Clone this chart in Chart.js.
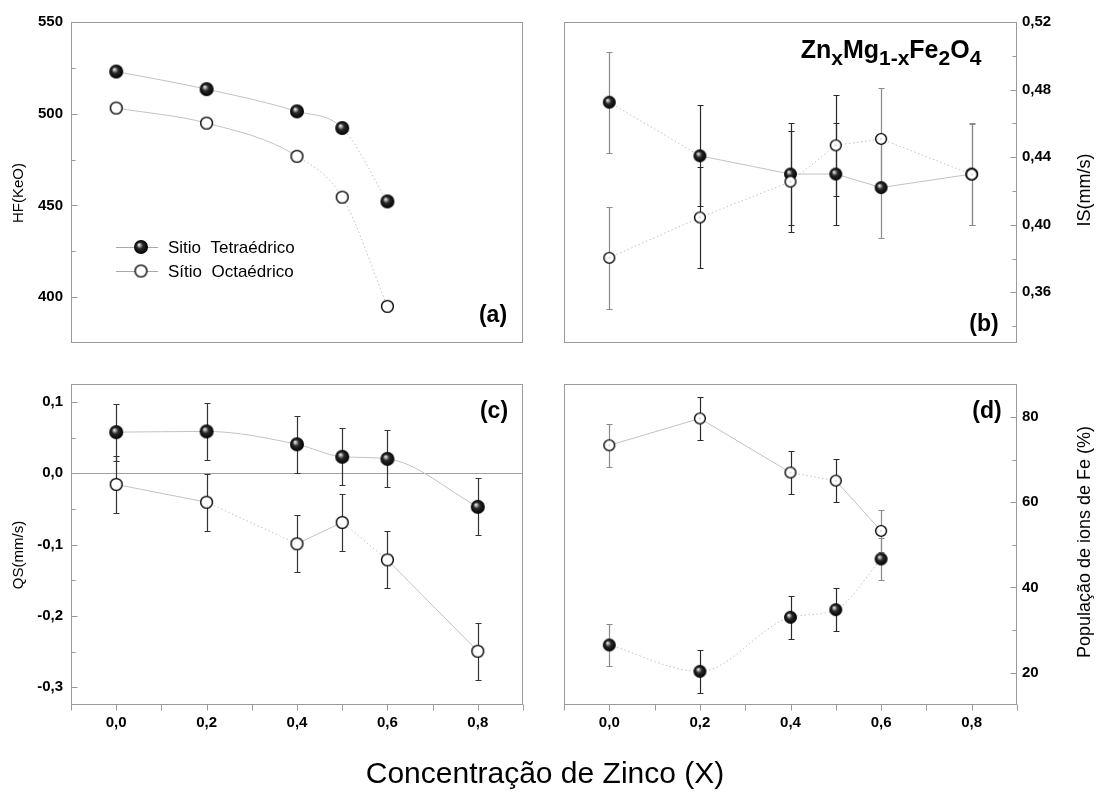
<!DOCTYPE html>
<html lang="pt">
<head>
<meta charset="UTF-8">
<title>ZnxMg1-xFe2O4</title>
<script src="https://cdn.jsdelivr.net/npm/chart.js"></script>
<style>
  body { margin: 0; background: #fff; }
  .wrap { position: relative; width: 1099px; height: 801px; overflow: hidden; }
  .wrap canvas { position: absolute; left: 0; top: 0; }
</style>
</head>
<body>
<div class="wrap">
  <canvas id="chartHF" width="1099" height="801"></canvas>
  <canvas id="chartIS" width="1099" height="801"></canvas>
  <canvas id="chartQS" width="1099" height="801"></canvas>
  <canvas id="chartPop" width="1099" height="801"></canvas>
</div>
<script>
// (a) campo hiperfino
const xHF = [0, 0.2, 0.4, 0.5, 0.6];
const hfTetra = [523, 513.4, 501.3, 492.2, 452.2];
const hfOcta = [503.1, 494.9, 476.8, 454.5, 395];

// (b) deslocamento isomérico
const xIS = [0, 0.2, 0.4, 0.5, 0.6, 0.8];
const isTetra = [0.4725, 0.4408, 0.430, 0.430, 0.422, 0.430];
const isOcta = [0.3804, 0.4043, 0.4255, 0.447, 0.4508, 0.4298];
const isTetraErr = [0.03, 0.03, 0.03, 0.03, 0.03, 0.03];
const isOctaErr = [0.03, 0.03, 0.03, 0.03, 0.03, 0.03];

// (c) desdobramento quadrupolar
const xQS = [0, 0.2, 0.4, 0.5, 0.6, 0.8];
const qsTetra = [0.0575, 0.0585, 0.0405, 0.023, 0.0201, -0.0472];
const qsOcta = [-0.0158, -0.0407, -0.099, -0.069, -0.1215, -0.2496];
const qsTetraErr = [0.04, 0.04, 0.04, 0.04, 0.04, 0.04];
const qsOctaErr = [0.04, 0.04, 0.04, 0.04, 0.04, 0.04];

// (d) população de ions de Fe
const xPop = [0, 0.2, 0.4, 0.5, 0.6];
const popTetra = [26.5, 20.3, 33.0, 34.8, 46.7];
const popOcta = [73.4, 79.7, 67.0, 65.1, 53.3];
const popTetraErr = [5, 5, 5, 5, 5];
const popOctaErr = [5, 5, 5, 5, 5];

// ticks
const xMajor = [0, 0.2, 0.4, 0.6, 0.8];
const xMinor = [-0.1, 0.1, 0.3, 0.5, 0.7, 0.9];
const hfMajor = [400, 450, 500, 550];
const hfMinor = [425, 475, 525];
const isMajor = [0.36, 0.40, 0.44, 0.48, 0.52];
const isMinor = [0.34, 0.38, 0.42, 0.46, 0.50];
const qsMajor = [-0.3, -0.2, -0.1, 0, 0.1];
const qsMinor = [-0.25, -0.15, -0.05, 0.05];
const popMajor = [20, 40, 60, 80];
const popMinor = [30, 50, 70];

const FONT = '"Liberation Sans", Arial, sans-serif';
Chart.defaults.font.family = FONT;
Chart.defaults.color = '#000';
Chart.defaults.animation = false;
Chart.defaults.plugins.legend.display = false;
Chart.defaults.plugins.tooltip.enabled = false;

// marker images: black sphere and open circle
function sphere(d) {
  const c = document.createElement('canvas');
  c.width = c.height = d + 2;
  const g = c.getContext('2d');
  const r = d / 2, m = c.width / 2;
  const grad = g.createRadialGradient(m - r * 0.3, m - r * 0.35, 0, m, m, r);
  grad.addColorStop(0, '#ffffff');
  grad.addColorStop(0.18, '#b0b0b0');
  grad.addColorStop(0.45, '#2a2a2a');
  grad.addColorStop(1, '#000000');
  g.fillStyle = grad;
  g.beginPath(); g.arc(m, m, r, 0, Math.PI * 2); g.fill();
  return c;
}
function ring(d, dot) {
  const c = document.createElement('canvas');
  c.width = c.height = d + 2;
  const g = c.getContext('2d');
  const m = c.width / 2;
  g.fillStyle = '#fff'; g.strokeStyle = '#000'; g.lineWidth = 1.4;
  g.beginPath(); g.arc(m, m, d / 2 - 0.6, 0, Math.PI * 2); g.fill(); g.stroke();
  if (dot) { g.fillStyle = '#777'; g.fillRect(m - 0.5, m - 0.5, 1, 1); }
  return c;
}

const fmt = d => v => v.toFixed(d).replace('.', ',');
const pts = (xs, ys) => xs.map((x, i) => ({ x: x, y: ys[i] }));

function series(xs, ys, marker, dots, extra) {
  return Object.assign({
    data: pts(xs, ys),
    showLine: true,
    borderColor: '#c2c2c2',
    borderWidth: 1,
    pointStyle: marker,
    pointRadius: 6,
    tension: 0,
    segment: { borderDash: ctx => dots[ctx.p0DataIndex] ? [1.5, 2.5] : undefined }
  }, extra || {});
}

function yAxis(side, min, max, major, f, width, pad) {
  return {
    type: 'linear', position: side, min: min, max: max,
    afterBuildTicks: s => { s.ticks = major.map(v => ({ value: v })); },
    afterFit: s => { s.width = width; },
    grid: { display: false, drawTicks: false },
    border: { display: false },
    ticks: { callback: f, padding: pad, font: { size: 15, weight: 'bold' }, color: '#000' }
  };
}
function xAxis(show) {
  if (!show) return { type: 'linear', min: -0.1, max: 0.9, display: false };
  return {
    type: 'linear', position: 'bottom', min: -0.1, max: 0.9,
    afterBuildTicks: s => { s.ticks = xMajor.map(v => ({ value: v })); },
    afterFit: s => { s.height = 40; },
    grid: { display: false, drawTicks: false },
    border: { display: false },
    ticks: { callback: fmt(1), padding: 9, autoSkip: false, maxRotation: 0,
             font: { size: 15, weight: 'bold' }, color: '#000' }
  };
}

function text(ctx, str, x, y, size, bold, rot, align) {
  ctx.save();
  ctx.translate(x, y);
  if (rot) ctx.rotate(rot);
  ctx.font = (bold ? 'bold ' : '') + size + 'px ' + FONT;
  ctx.fillStyle = '#000';
  ctx.textAlign = align || 'center';
  ctx.textBaseline = 'middle';
  ctx.fillText(str, 0, 0);
  ctx.restore();
}

// frame, inward y ticks, outward x ticks, error bars
function panelBase(chart, s) {
  const ctx = chart.ctx, a = chart.chartArea;
  const xs = chart.scales.x, ys = chart.scales.y;
  ctx.save();
  ctx.lineWidth = 1;
  if (s.zeroLine) {
    const py = Math.round(ys.getPixelForValue(0)) + 0.5;
    ctx.strokeStyle = '#a0a0a0';
    ctx.beginPath(); ctx.moveTo(a.left, py); ctx.lineTo(a.right, py); ctx.stroke();
  }
  chart.data.datasets.forEach(ds => {
    if (!ds.errors) return;
    ds.data.forEach((p, i) => {
      const px = Math.round(xs.getPixelForValue(p.x)) + 0.5;
      const t = Math.round(ys.getPixelForValue(p.y + ds.errors[i])) + 0.5;
      const b = Math.round(ys.getPixelForValue(p.y - ds.errors[i])) + 0.5;
      ctx.strokeStyle = ds.errColors ? ds.errColors[i] : '#333';
      ctx.lineWidth = 1.2;
      ctx.beginPath();
      ctx.moveTo(px, t); ctx.lineTo(px, b);
      ctx.moveTo(px - 3, t); ctx.lineTo(px + 3, t);
      ctx.moveTo(px - 3, b); ctx.lineTo(px + 3, b);
      ctx.stroke();
    });
  });
  ctx.strokeStyle = '#9a9a9a';
  ctx.lineWidth = 1;
  const L = Math.round(a.left) + 0.5, R = Math.round(a.right) - 0.5;
  const T = Math.round(a.top) + 0.5, B = Math.round(a.bottom) - 0.5;
  ctx.strokeRect(L, T, R - L, B - T);
  const edge = s.side === 'left' ? L : R, dir = s.side === 'left' ? 1 : -1;
  ctx.beginPath();
  s.major.forEach(v => {
    const py = Math.round(ys.getPixelForValue(v)) + 0.5;
    ctx.moveTo(edge, py); ctx.lineTo(edge + dir * 6, py);
  });
  s.minor.forEach(v => {
    const py = Math.round(ys.getPixelForValue(v)) + 0.5;
    ctx.moveTo(edge, py); ctx.lineTo(edge + dir * 4, py);
  });
  if (s.xTicks) {
    xMajor.concat(xMinor).forEach(v => {
      const px = Math.round(xs.getPixelForValue(v)) + 0.5;
      ctx.moveTo(px, B); ctx.lineTo(px, B + 6);
    });
  }
  ctx.stroke();
  ctx.restore();
}

function makePanel(id, cfg) {
  return new Chart(document.getElementById(id), {
    type: 'line',
    data: { datasets: cfg.datasets },
    options: {
      responsive: false,
      devicePixelRatio: 1,
      events: [],
      layout: { padding: cfg.padding },
      scales: { x: xAxis(cfg.xTicks), y: cfg.y }
    },
    plugins: [{
      id: 'panel_' + id,
      beforeDatasetsDraw: chart => panelBase(chart, cfg),
      afterDraw: chart => cfg.decor(chart.ctx)
    }]
  });
}

const gray = '#8a8a8a', dark = '#2a2a2a';

// (a)
const sphA = sphere(14), ringA = ring(13, false);
makePanel('chartHF', {
  padding: { left: 0, top: 22, right: 576, bottom: 458 },
  y: yAxis('left', 375, 550, hfMajor, v => String(v), 71, 8),
  side: 'left', major: hfMajor, minor: hfMinor,
  datasets: [
    series(xHF, hfOcta, ringA, [0, 0, 1, 1], { cubicInterpolationMode: 'monotone' }),
    series(xHF, hfTetra, sphA, [0, 0, 0, 1], { cubicInterpolationMode: 'monotone' })
  ],
  decor: ctx => {
    ctx.save();
    ctx.strokeStyle = '#aaa'; ctx.lineWidth = 1;
    ctx.beginPath();
    ctx.moveTo(116, 247.5); ctx.lineTo(158, 247.5);
    ctx.moveTo(116, 271.5); ctx.lineTo(158, 271.5);
    ctx.stroke();
    ctx.drawImage(sphA, 141 - sphA.width / 2, 247 - sphA.height / 2);
    ctx.drawImage(ringA, 141 - ringA.width / 2, 271 - ringA.height / 2);
    ctx.restore();
    text(ctx, 'Sitio  Tetraédrico', 168, 248, 17, false, 0, 'left');
    text(ctx, 'Sítio  Octaédrico', 168, 272, 17, false, 0, 'left');
    text(ctx, 'HF(KeO)', 19, 193, 15, false, -Math.PI / 2);
    text(ctx, '(a)', 493, 316, 23, true);
  }
});

// (b)
const sphB = sphere(13), ringB = ring(12, true);
const errColB = [gray, dark, dark, dark, gray, gray];
makePanel('chartIS', {
  padding: { left: 564, top: 22, right: 0, bottom: 458 },
  y: yAxis('right', 0.33, 0.52, isMajor, fmt(2), 82, 5),
  side: 'right', major: isMajor, minor: isMinor,
  datasets: [
    series(xIS, isOcta, ringB, [1, 1, 1, 1, 1], { errors: isOctaErr, errColors: errColB }),
    series(xIS, isTetra, sphB, [1, 0, 0, 0, 0], { errors: isTetraErr, errColors: errColB })
  ],
  decor: ctx => {
    // ZnxMg1-xFe2O4 com subscritos
    const parts = [['Zn', 0], ['x', 1], ['Mg', 0], ['1-x', 1], ['Fe', 0], ['2', 1], ['O', 0], ['4', 1]];
    ctx.save();
    ctx.fillStyle = '#000';
    ctx.textBaseline = 'alphabetic';
    let w = 0;
    parts.forEach(p => { ctx.font = 'bold ' + (p[1] ? 21 : 25) + 'px ' + FONT; w += ctx.measureText(p[0]).width; });
    let cx = 891 - w / 2;
    parts.forEach(p => {
      ctx.font = 'bold ' + (p[1] ? 21 : 25) + 'px ' + FONT;
      ctx.fillText(p[0], cx, p[1] ? 65 : 58);
      cx += ctx.measureText(p[0]).width;
    });
    ctx.restore();
    text(ctx, 'IS(mm/s)', 1085, 190, 18, false, -Math.PI / 2);
    text(ctx, '(b)', 984, 325, 23, true);
  }
});

// (c)
const sphC = sphere(14), ringC = ring(13, false);
makePanel('chartQS', {
  padding: { left: 0, top: 384, right: 576, bottom: 56 },
  xTicks: true,
  zeroLine: true,
  y: yAxis('left', -0.325, 0.125, qsMajor, fmt(1), 71, 8),
  side: 'left', major: qsMajor, minor: qsMinor,
  datasets: [
    series(xQS, qsOcta, ringC, [0, 1, 0, 1, 0], { errors: qsOctaErr }),
    series(xQS, qsTetra, sphC, [0, 0, 0, 0, 0], { errors: qsTetraErr, cubicInterpolationMode: 'monotone' })
  ],
  decor: ctx => {
    text(ctx, 'QS(mm/s)', 19, 555, 15, false, -Math.PI / 2);
    text(ctx, '(c)', 494, 412, 23, true);
    text(ctx, 'Concentração de Zinco (X)', 545, 775, 30, false);
  }
});

// (d)
const sphD = sphere(13), ringD = ring(12, true);
makePanel('chartPop', {
  padding: { left: 564, top: 384, right: 0, bottom: 56 },
  xTicks: true,
  y: yAxis('right', 12.4, 87.8, popMajor, v => String(v), 82, 5),
  side: 'right', major: popMajor, minor: popMinor,
  datasets: [
    series(xPop, popOcta, ringD, [0, 0, 1, 0], { errors: popOctaErr, errColors: [gray, dark, dark, dark, gray] }),
    series(xPop, popTetra, sphD, [1, 1, 1, 1], { errors: popTetraErr, errColors: [gray, dark, dark, dark, gray], cubicInterpolationMode: 'monotone' })
  ],
  decor: ctx => {
    text(ctx, 'População de ions de Fe (%)', 1085, 542, 18, false, -Math.PI / 2);
    text(ctx, '(d)', 987, 412, 23, true);
  }
});
</script>
</body>
</html>
